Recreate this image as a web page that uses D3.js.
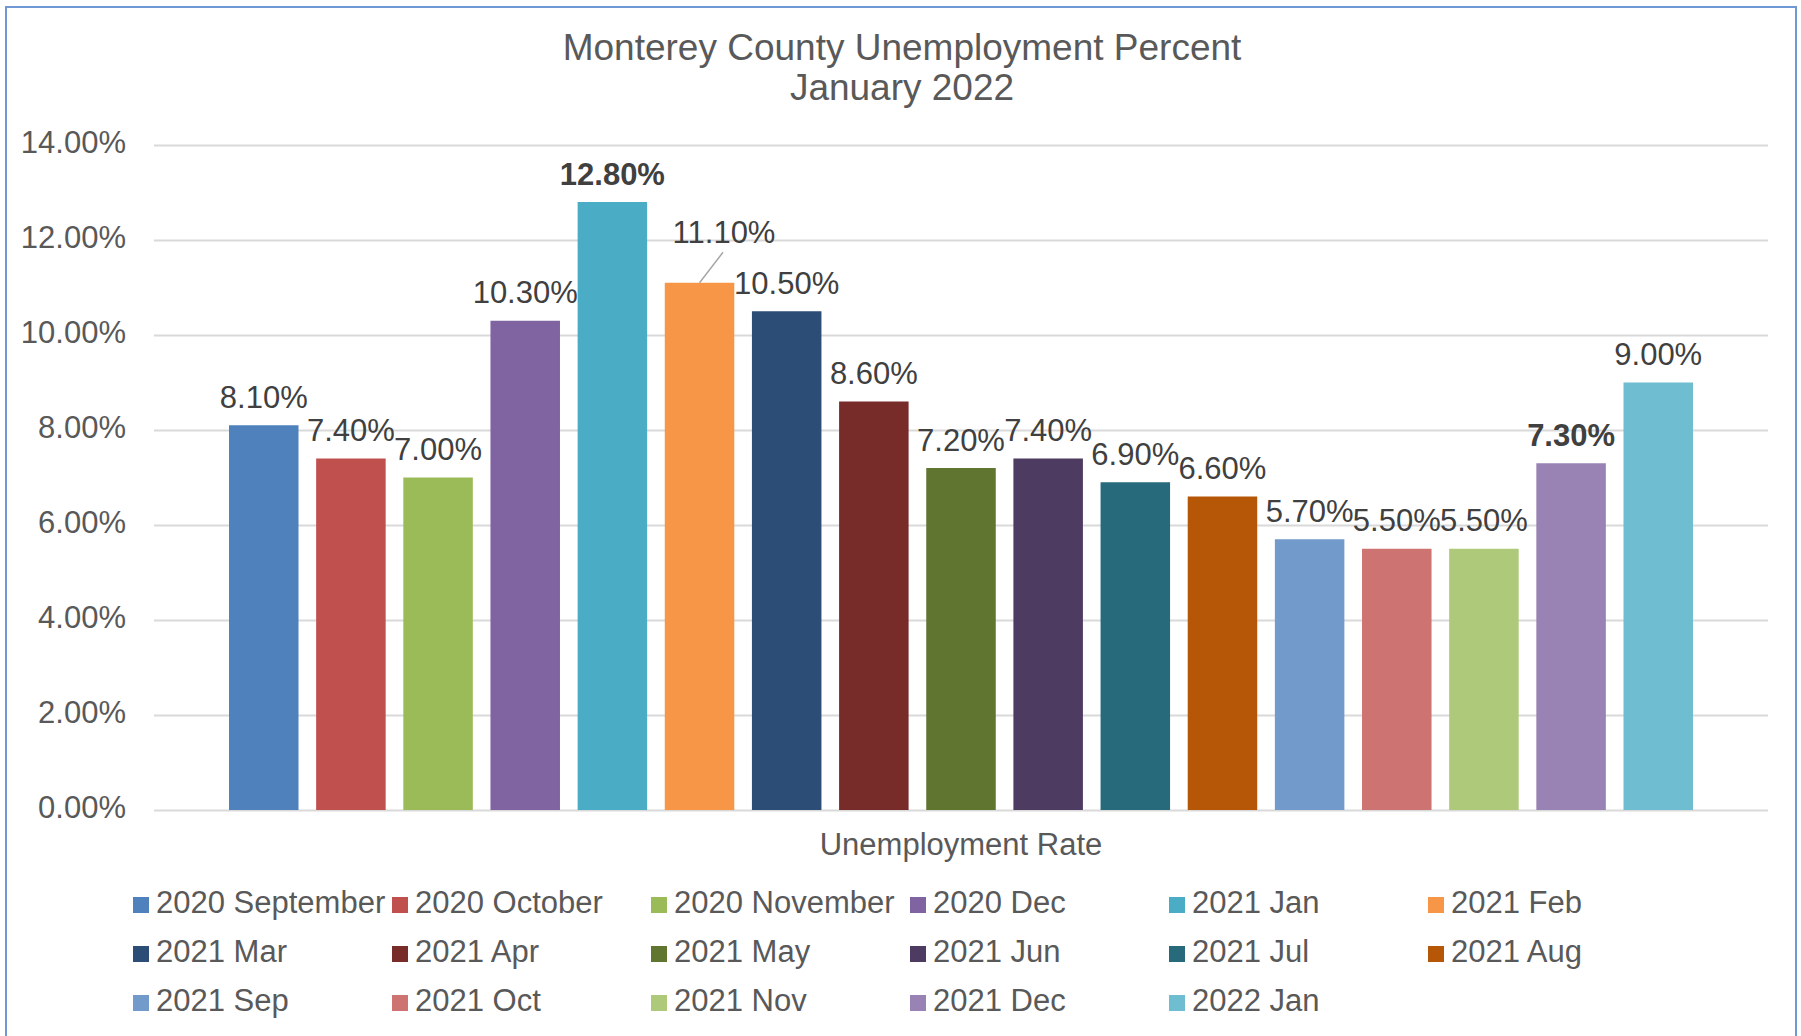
<!DOCTYPE html>
<html>
<head>
<meta charset="utf-8">
<script src="https://cdn.jsdelivr.net/npm/d3@7"></script>
<style>
  body { margin: 0; background: #fff; }
  svg { display: block; font-family: "Liberation Sans", Arial, sans-serif; }
</style>
</head>
<body>
<svg id="chart" width="1801" height="1036"></svg>
<script>
var category = "Unemployment Rate";
var seriesNames = ["2020 September", "2020 October", "2020 November", "2020 Dec", "2021 Jan", "2021 Feb",
  "2021 Mar", "2021 Apr", "2021 May", "2021 Jun", "2021 Jul", "2021 Aug",
  "2021 Sep", "2021 Oct", "2021 Nov", "2021 Dec", "2022 Jan"];
var rates = [0.081, 0.074, 0.070, 0.103, 0.128, 0.111, 0.105, 0.086, 0.072, 0.074, 0.069, 0.066,
  0.057, 0.055, 0.055, 0.073, 0.090];
var seriesColors = ["#4F81BD", "#C0504D", "#9BBB59", "#8064A2", "#4BACC6", "#F79646",
  "#2C4D75", "#772C2A", "#5F7530", "#4D3B62", "#276A7C", "#B65708",
  "#729ACA", "#CD7371", "#AFC97A", "#9983B5", "#6FBDD1"];
var yTicks = [0, 0.02, 0.04, 0.06, 0.08, 0.10, 0.12, 0.14];
var boldLabels = ["2021 Jan", "2021 Dec"];
var titleLines = ["Monterey County Unemployment Percent", "January 2022"];

var svg = d3.select("#chart");
var plotLeft = 154, plotRight = 1768, plotTop = 145, plotBottom = 810;

// chart frame
svg.append("rect")
  .attr("x", 6).attr("y", 7)
  .attr("width", 1790).attr("height", 1040)
  .attr("fill", "#fff")
  .attr("stroke", "#6f98d4")
  .attr("stroke-width", 2);

var y = d3.scaleLinear().domain([0, 0.14]).range([plotBottom, plotTop]);

var x0 = d3.scaleBand().domain([category]).range([plotLeft, plotRight])
  .paddingInner(0.082);
var x1 = d3.scaleBand().domain(seriesNames).range([0, x0.bandwidth()])
  .paddingInner(0.2025).paddingOuter(0.10125);

// title
svg.append("text")
  .attr("x", 902).attr("y", 60)
  .attr("text-anchor", "middle")
  .attr("font-size", 37)
  .attr("fill", "#595959")
  .selectAll("tspan")
  .data(titleLines)
  .enter().append("tspan")
    .attr("x", 902)
    .attr("dy", function(d, i){ return i ? 40 : 0; })
    .text(function(d){ return d; });

// y axis + gridlines
var yAxis = svg.append("g")
  .attr("transform", "translate(" + plotLeft + ",0)")
  .call(d3.axisLeft(y).tickValues(yTicks).tickFormat(d3.format(".2%"))
    .tickSize(-(plotRight - plotLeft)).tickPadding(28));
yAxis.select(".domain").remove();
yAxis.selectAll(".tick line").attr("stroke", "#d9d9d9").attr("stroke-width", 2);
yAxis.selectAll(".tick text")
  .attr("font-size", 31)
  .attr("font-family", "'Liberation Sans', Arial, sans-serif")
  .attr("fill", "#595959")
  .attr("dy", "0.24em");

var data = seriesNames.map(function(name, i){
  return { name: name, value: rates[i], color: seriesColors[i] };
});

var group = svg.append("g")
  .attr("transform", "translate(" + x0(category) + ",0)");

group.selectAll("rect.bar")
  .data(data)
  .enter().append("rect")
    .attr("class", "bar")
    .attr("x", function(d){ return x1(d.name); })
    .attr("y", function(d){ return y(d.value); })
    .attr("width", x1.bandwidth())
    .attr("height", function(d){ return y(0) - y(d.value); })
    .attr("fill", function(d){ return d.color; });

// the Feb label was dragged up and to the right in the original, with a leader line
var moved = { "2021 Feb": [24.5, -22.5] };

group.selectAll("line.leader")
  .data(data.filter(function(d){ return moved[d.name]; }))
  .enter().append("line")
    .attr("class", "leader")
    .attr("x1", function(d){ return x1(d.name) + x1.bandwidth() / 2; })
    .attr("y1", function(d){ return y(d.value); })
    .attr("x2", function(d){ return x1(d.name) + x1.bandwidth() / 2 + moved[d.name][0] - 1; })
    .attr("y2", function(d){ return y(d.value) + moved[d.name][1] - 8; })
    .attr("stroke", "#a6a6a6")
    .attr("stroke-width", 1.5);

group.selectAll("text.value")
  .data(data)
  .enter().append("text")
    .attr("class", "value")
    .attr("x", function(d){
      var off = moved[d.name] ? moved[d.name][0] : 0;
      return x1(d.name) + x1.bandwidth() / 2 + off;
    })
    .attr("y", function(d){
      var off = moved[d.name] ? moved[d.name][1] : 0;
      return y(d.value) - 17.5 + off;
    })
    .attr("text-anchor", "middle")
    .attr("font-size", 31)
    .attr("font-weight", function(d){ return boldLabels.indexOf(d.name) >= 0 ? "bold" : "normal"; })
    .attr("fill", "#404040")
    .text(function(d){ return d3.format(".2%")(d.value); });

// category axis title
svg.append("text")
  .attr("x", x0(category) + x0.bandwidth() / 2)
  .attr("y", 855)
  .attr("text-anchor", "middle")
  .attr("font-size", 31)
  .attr("fill", "#595959")
  .text(category);

// legend
var legend = svg.append("g").attr("transform", "translate(133,913)");
var item = legend.selectAll("g.item")
  .data(data)
  .enter().append("g")
    .attr("class", "item")
    .attr("transform", function(d, i){
      return "translate(" + (i % 6) * 259 + "," + Math.floor(i / 6) * 49 + ")";
    });
item.append("rect")
  .attr("x", 0).attr("y", -16)
  .attr("width", 16).attr("height", 16)
  .attr("fill", function(d){ return d.color; });
item.append("text")
  .attr("x", 23)
  .attr("font-size", 31)
  .attr("fill", "#595959")
  .text(function(d){ return d.name; });
</script>
</body>
</html>
